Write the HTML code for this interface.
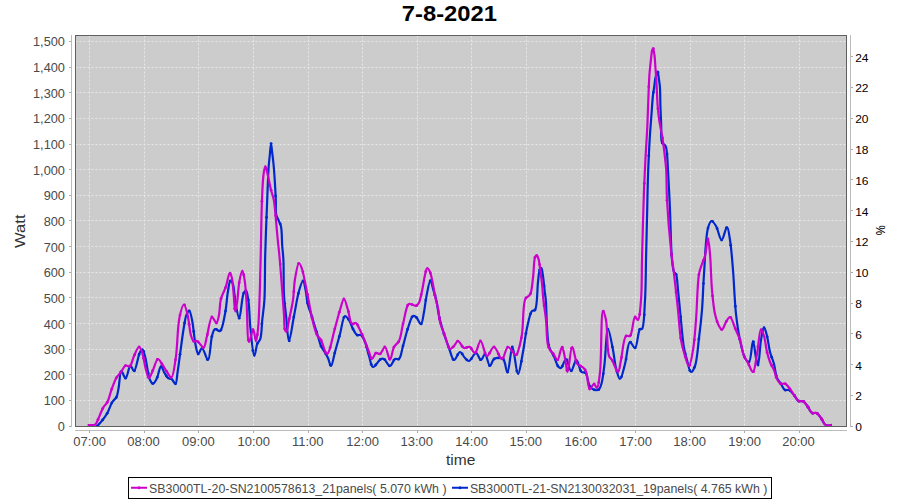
<!DOCTYPE html>
<html><head><meta charset="utf-8"><style>
html,body{margin:0;padding:0;background:#fff;width:900px;height:500px;overflow:hidden}
svg{display:block}
text{font-family:"Liberation Sans",sans-serif}
</style></head><body>
<svg width="900" height="500" viewBox="0 0 900 500">
<rect x="0" y="0" width="900" height="500" fill="#fff"/>
<rect x="75" y="35" width="772" height="392" fill="#cccccc"/>
<line x1="75.5" y1="400.5" x2="846" y2="400.5" stroke="#e8e8e8" stroke-width="1" stroke-dasharray="2,2"/>
<line x1="75.5" y1="374.5" x2="846" y2="374.5" stroke="#e8e8e8" stroke-width="1" stroke-dasharray="2,2"/>
<line x1="75.5" y1="349.5" x2="846" y2="349.5" stroke="#e8e8e8" stroke-width="1" stroke-dasharray="2,2"/>
<line x1="75.5" y1="323.5" x2="846" y2="323.5" stroke="#e8e8e8" stroke-width="1" stroke-dasharray="2,2"/>
<line x1="75.5" y1="297.5" x2="846" y2="297.5" stroke="#e8e8e8" stroke-width="1" stroke-dasharray="2,2"/>
<line x1="75.5" y1="272.5" x2="846" y2="272.5" stroke="#e8e8e8" stroke-width="1" stroke-dasharray="2,2"/>
<line x1="75.5" y1="246.5" x2="846" y2="246.5" stroke="#e8e8e8" stroke-width="1" stroke-dasharray="2,2"/>
<line x1="75.5" y1="220.5" x2="846" y2="220.5" stroke="#e8e8e8" stroke-width="1" stroke-dasharray="2,2"/>
<line x1="75.5" y1="195.5" x2="846" y2="195.5" stroke="#e8e8e8" stroke-width="1" stroke-dasharray="2,2"/>
<line x1="75.5" y1="169.5" x2="846" y2="169.5" stroke="#e8e8e8" stroke-width="1" stroke-dasharray="2,2"/>
<line x1="75.5" y1="144.5" x2="846" y2="144.5" stroke="#e8e8e8" stroke-width="1" stroke-dasharray="2,2"/>
<line x1="75.5" y1="118.5" x2="846" y2="118.5" stroke="#e8e8e8" stroke-width="1" stroke-dasharray="2,2"/>
<line x1="75.5" y1="92.5" x2="846" y2="92.5" stroke="#e8e8e8" stroke-width="1" stroke-dasharray="2,2"/>
<line x1="75.5" y1="67.5" x2="846" y2="67.5" stroke="#e8e8e8" stroke-width="1" stroke-dasharray="2,2"/>
<line x1="75.5" y1="41.5" x2="846" y2="41.5" stroke="#e8e8e8" stroke-width="1" stroke-dasharray="2,2"/>
<line x1="89.5" y1="35.5" x2="89.5" y2="426" stroke="#e8e8e8" stroke-width="1" stroke-dasharray="2,2"/>
<line x1="144.5" y1="35.5" x2="144.5" y2="426" stroke="#e8e8e8" stroke-width="1" stroke-dasharray="2,2"/>
<line x1="198.5" y1="35.5" x2="198.5" y2="426" stroke="#e8e8e8" stroke-width="1" stroke-dasharray="2,2"/>
<line x1="253.5" y1="35.5" x2="253.5" y2="426" stroke="#e8e8e8" stroke-width="1" stroke-dasharray="2,2"/>
<line x1="308.5" y1="35.5" x2="308.5" y2="426" stroke="#e8e8e8" stroke-width="1" stroke-dasharray="2,2"/>
<line x1="362.5" y1="35.5" x2="362.5" y2="426" stroke="#e8e8e8" stroke-width="1" stroke-dasharray="2,2"/>
<line x1="417.5" y1="35.5" x2="417.5" y2="426" stroke="#e8e8e8" stroke-width="1" stroke-dasharray="2,2"/>
<line x1="471.5" y1="35.5" x2="471.5" y2="426" stroke="#e8e8e8" stroke-width="1" stroke-dasharray="2,2"/>
<line x1="526.5" y1="35.5" x2="526.5" y2="426" stroke="#e8e8e8" stroke-width="1" stroke-dasharray="2,2"/>
<line x1="581.5" y1="35.5" x2="581.5" y2="426" stroke="#e8e8e8" stroke-width="1" stroke-dasharray="2,2"/>
<line x1="635.5" y1="35.5" x2="635.5" y2="426" stroke="#e8e8e8" stroke-width="1" stroke-dasharray="2,2"/>
<line x1="690.5" y1="35.5" x2="690.5" y2="426" stroke="#e8e8e8" stroke-width="1" stroke-dasharray="2,2"/>
<line x1="744.5" y1="35.5" x2="744.5" y2="426" stroke="#e8e8e8" stroke-width="1" stroke-dasharray="2,2"/>
<line x1="799.5" y1="35.5" x2="799.5" y2="426" stroke="#e8e8e8" stroke-width="1" stroke-dasharray="2,2"/>
<clipPath id="pc"><rect x="76" y="36" width="770" height="390"/></clipPath>
<g clip-path="url(#pc)">
<path d="M96.0,426.5 C96.0,426.5 97.0,426.1 97.6,425.6 C98.9,424.5 101.2,421.8 102.8,419.7 C104.4,417.7 105.8,415.8 107.2,413.3 C109.0,410.1 110.5,404.9 112.3,402.0 C113.6,399.9 115.5,399.1 116.5,397.0 C117.7,394.6 117.9,391.5 118.6,388.0 C119.5,383.3 119.8,371.5 121.4,371.2 C122.5,371.0 124.3,378.3 125.6,378.2 C127.3,378.1 128.8,365.8 130.5,365.6 C131.7,365.5 132.8,371.3 134.0,371.2 C136.0,370.9 138.1,355.3 140.0,352.0 C140.8,350.6 141.7,349.3 142.4,349.4 C143.4,349.6 144.1,353.1 145.0,356.0 C146.6,361.5 147.9,375.7 150.0,380.0 C150.9,381.9 152.0,383.6 153.0,383.6 C154.3,383.6 155.8,380.3 157.0,378.0 C158.6,374.8 159.6,366.1 161.0,366.0 C162.0,365.9 162.9,370.0 164.0,372.0 C165.2,374.0 166.5,376.9 168.0,378.0 C169.1,378.8 170.5,378.3 171.6,379.0 C173.0,379.9 174.5,384.1 175.5,383.8 C176.8,383.5 176.9,376.4 177.6,372.0 C178.5,366.3 179.3,359.3 180.3,352.3 C181.4,344.4 182.7,334.0 183.9,327.0 C184.8,322.1 185.3,317.2 186.6,314.4 C187.4,312.7 188.5,310.7 189.3,310.8 C190.4,311.0 191.2,316.0 192.0,319.8 C193.4,326.0 194.2,338.8 195.6,345.0 C196.4,348.8 197.1,353.8 198.3,354.0 C199.3,354.1 200.7,347.9 202.0,348.0 C203.8,348.1 206.4,360.2 208.0,360.0 C210.1,359.7 210.4,341.5 212.0,336.0 C212.9,332.9 213.5,329.6 215.0,329.0 C216.3,328.5 218.6,331.7 220.0,331.0 C222.5,329.8 223.7,320.1 225.0,314.0 C226.5,307.0 226.9,297.1 228.0,291.0 C228.7,286.9 229.3,281.1 230.4,280.8 C231.1,280.6 232.1,282.3 232.8,283.8 C234.2,287.0 234.2,295.0 235.2,300.6 C236.3,306.4 237.9,318.2 239.2,318.2 C240.7,318.2 241.7,297.6 243.6,293.4 C244.3,291.8 245.3,290.2 246.0,290.4 C247.1,290.7 247.7,296.3 248.4,300.6 C249.5,307.5 249.4,318.8 250.4,328.0 C251.4,337.3 252.9,355.9 254.3,356.0 C255.3,356.1 256.1,346.4 257.4,343.4 C258.2,341.5 259.5,341.2 260.2,339.2 C261.7,335.2 261.6,326.1 262.3,319.6 C263.0,313.1 263.9,307.9 264.4,300.0 C265.1,288.1 264.8,270.7 265.2,255.0 C265.7,237.6 266.5,216.3 267.2,200.0 C267.7,187.0 268.2,172.8 268.8,165.0 C269.1,161.0 269.4,159.2 269.7,156.0 C270.1,152.2 270.6,143.6 271.0,143.6 C271.4,143.6 271.7,148.9 272.1,152.0 C272.6,155.9 273.1,159.6 273.6,165.0 C274.4,173.8 275.4,190.9 275.8,200.0 C276.1,205.8 275.4,210.7 276.2,214.4 C276.7,216.9 277.8,218.4 278.6,220.4 C279.4,222.4 280.4,223.8 281.0,226.4 C282.0,230.9 281.8,239.7 282.2,245.6 C282.6,250.7 283.1,254.1 283.4,260.0 C283.9,269.1 283.4,285.0 284.0,295.0 C284.4,302.6 285.2,307.9 286.0,315.0 C286.9,323.1 287.7,340.9 289.0,341.0 C290.3,341.1 292.3,324.3 294.0,316.0 C295.7,307.7 297.1,297.4 299.0,291.0 C300.2,286.8 301.9,280.9 303.0,281.0 C304.0,281.1 304.9,286.6 305.6,290.0 C306.5,294.1 306.6,299.5 307.7,304.0 C308.7,308.4 310.8,313.0 311.9,316.6 C312.7,319.3 313.2,321.0 314.0,323.6 C315.0,326.9 316.3,331.1 317.5,334.8 C318.7,338.5 319.6,343.0 321.0,346.0 C322.0,348.3 323.4,349.7 324.5,351.6 C325.7,353.6 326.9,355.7 328.0,358.0 C329.1,360.5 330.0,366.0 331.0,366.0 C332.3,365.9 333.6,357.0 335.0,352.0 C336.6,346.4 338.3,340.0 340.0,334.0 C341.7,328.0 342.8,316.6 345.0,316.0 C346.2,315.7 347.8,318.3 349.0,320.0 C350.6,322.3 351.5,326.4 353.0,329.0 C354.2,331.3 355.4,334.1 357.0,335.0 C358.2,335.6 359.8,334.3 361.0,335.0 C362.7,336.0 363.8,339.2 365.0,342.0 C366.6,345.8 367.6,351.6 369.0,356.0 C370.3,359.9 371.0,366.5 373.0,367.0 C375.0,367.4 378.8,359.9 381.0,359.0 C382.1,358.5 382.9,358.5 384.0,359.0 C385.8,359.8 388.1,366.1 390.0,366.0 C391.8,365.9 393.2,359.9 395.0,359.0 C396.3,358.4 397.9,359.8 399.0,359.0 C401.1,357.5 401.6,350.7 403.0,346.0 C404.6,340.5 406.2,333.3 408.0,328.0 C409.5,323.5 411.1,316.9 413.0,316.0 C413.9,315.6 415.0,316.3 416.0,317.0 C417.7,318.2 419.7,324.2 421.0,324.0 C422.5,323.7 423.1,316.3 424.0,312.0 C425.0,307.1 425.4,301.3 426.5,296.0 C427.6,290.8 429.1,280.6 430.4,280.6 C431.4,280.6 432.5,287.1 433.5,290.4 C434.5,293.6 435.5,296.4 436.3,300.0 C437.4,304.6 437.8,310.5 439.0,316.0 C440.3,321.9 442.2,328.4 444.0,334.0 C445.6,339.0 447.3,343.5 449.0,348.0 C450.6,352.2 452.0,359.8 454.0,360.0 C455.7,360.2 458.1,352.0 460.0,352.0 C461.7,352.0 463.3,356.4 465.0,358.0 C466.3,359.3 467.6,361.2 469.0,361.0 C471.1,360.8 473.9,352.9 476.0,353.0 C477.9,353.1 479.4,360.0 481.0,360.0 C482.4,360.0 483.7,353.9 485.0,354.0 C486.7,354.2 488.3,365.9 490.0,366.0 C491.3,366.1 491.9,360.2 494.0,359.0 C496.2,357.7 500.8,357.4 503.0,359.0 C505.7,361.0 506.0,372.5 507.4,372.4 C509.3,372.3 510.7,347.0 512.4,347.0 C514.2,347.0 516.1,374.0 518.0,374.0 C519.7,374.0 521.5,359.5 523.0,352.0 C524.5,344.2 525.3,335.3 527.0,328.0 C528.4,321.8 529.8,313.2 532.0,311.0 C532.9,310.1 534.2,311.0 535.0,310.0 C537.5,306.9 537.1,289.5 538.0,282.0 C538.6,277.0 538.8,271.5 539.8,269.4 C540.2,268.5 540.9,267.7 541.3,267.8 C542.1,268.0 542.3,272.0 542.8,274.8 C543.5,279.0 544.1,285.8 544.6,290.4 C545.0,294.0 545.5,296.0 545.8,300.0 C546.4,306.5 546.4,317.8 547.0,326.0 C547.5,333.3 547.5,341.3 549.1,346.8 C550.3,350.8 552.5,353.3 554.0,356.6 C555.5,359.8 556.6,364.6 558.2,366.4 C559.1,367.4 560.1,368.3 561.0,368.0 C562.7,367.5 564.4,358.9 566.0,359.0 C567.8,359.1 569.2,370.9 571.0,371.0 C572.7,371.1 574.7,360.1 576.4,360.1 C578.2,360.1 579.4,370.2 581.5,372.0 C582.7,373.0 584.3,371.9 585.5,373.0 C587.7,375.1 588.0,384.6 590.4,387.4 C591.9,389.2 594.4,390.0 596.0,390.2 C597.1,390.3 598.2,390.2 599.0,389.5 C600.2,388.4 600.8,385.9 601.6,383.2 C602.8,378.8 603.5,372.1 604.4,365.0 C605.7,355.0 606.3,329.1 608.0,329.0 C609.3,328.9 611.6,343.2 613.0,350.0 C614.3,356.2 614.6,362.8 616.0,368.0 C617.1,372.2 618.6,379.0 620.0,379.0 C621.6,379.0 623.5,369.5 625.0,364.0 C626.8,357.4 627.6,342.6 630.0,342.0 C631.4,341.7 633.6,348.3 635.0,348.0 C637.3,347.5 638.0,330.5 640.0,329.0 C640.6,328.5 641.4,329.5 642.0,329.0 C644.2,327.0 644.3,310.5 645.0,300.0 C645.8,287.8 645.7,274.1 646.0,260.0 C646.4,244.3 646.8,225.7 647.2,210.0 C647.5,195.9 647.7,183.0 648.2,170.0 C648.7,157.7 649.3,144.8 650.0,134.0 C650.6,125.2 651.3,117.1 651.8,110.0 C652.2,104.4 652.5,99.2 653.0,95.0 C653.4,91.9 653.8,89.7 654.2,87.0 C654.6,84.1 654.8,80.7 655.4,78.0 C656.0,75.7 657.0,71.7 657.6,71.7 C658.2,71.8 658.6,77.2 659.0,79.8 C659.4,82.3 659.7,84.1 659.9,87.0 C660.3,91.6 660.2,98.8 660.4,105.0 C660.6,111.5 660.9,118.6 661.2,125.0 C661.5,131.0 660.5,138.9 662.0,142.4 C662.8,144.3 664.8,144.5 665.6,146.0 C666.5,147.6 666.5,149.5 666.8,152.0 C667.4,156.4 667.6,162.8 668.0,170.0 C668.6,180.7 669.4,195.9 670.0,210.0 C670.7,225.7 670.9,249.1 672.0,260.0 C672.6,265.4 672.9,269.8 674.0,272.0 C674.6,273.1 675.4,272.9 676.0,274.0 C677.3,276.7 677.4,284.4 678.0,290.0 C678.7,296.3 679.2,302.3 680.0,310.0 C681.1,320.7 682.4,338.9 684.0,348.0 C684.9,353.2 685.8,356.0 687.0,360.0 C688.2,364.0 689.4,371.8 691.0,372.0 C692.2,372.2 693.9,368.9 695.0,366.0 C697.2,360.2 697.8,347.3 699.0,338.0 C700.2,328.7 701.2,319.9 702.0,310.0 C702.9,298.8 703.1,286.7 704.0,274.0 C705.0,259.6 705.6,236.5 708.0,228.0 C709.0,224.5 710.2,221.2 711.6,221.0 C712.9,220.8 714.6,223.8 716.0,226.0 C718.1,229.4 719.7,240.0 721.6,240.0 C723.4,240.0 725.6,226.9 727.0,227.0 C728.4,227.1 729.1,234.7 730.0,240.0 C731.3,247.9 732.1,259.0 733.0,270.0 C734.1,283.3 734.6,301.3 736.0,314.0 C737.1,323.8 738.3,332.2 740.0,340.0 C741.4,346.6 742.8,354.3 745.0,358.0 C746.2,360.0 747.9,362.3 749.0,362.0 C751.2,361.3 751.8,341.0 753.0,341.0 C754.1,341.0 755.0,353.6 756.0,358.0 C756.7,360.9 757.4,365.0 758.0,365.0 C759.2,364.9 759.8,347.0 761.0,340.0 C761.9,334.9 762.9,327.1 764.0,327.0 C764.9,327.0 766.1,332.5 767.0,336.0 C768.2,340.5 768.7,347.1 770.0,352.0 C771.1,356.3 772.9,359.8 774.0,364.0 C775.2,368.5 775.5,374.4 777.0,378.0 C778.1,380.5 779.7,382.0 781.0,384.0 C782.3,386.0 783.4,389.1 785.0,390.0 C786.2,390.6 787.7,389.5 789.0,390.0 C790.7,390.7 792.4,393.2 794.0,395.0 C795.6,396.9 796.8,400.1 798.5,401.0 C799.9,401.7 801.7,400.6 803.0,401.2 C804.5,401.9 805.7,403.8 807.0,405.5 C808.7,407.6 810.1,412.0 812.0,413.0 C813.4,413.7 815.1,412.4 816.5,413.0 C818.2,413.7 819.6,416.2 821.0,418.0 C822.5,420.0 823.5,423.3 825.0,424.5 C825.9,425.2 827.0,425.4 828.0,425.5 C829.0,425.6 831.0,425.0 831.0,425.0" fill="none" stroke="#0028cc" stroke-width="2.2" stroke-linejoin="round" stroke-linecap="round"/>
<g fill="#0028cc"><circle cx="102.7" cy="419.9" r="1.4"/><circle cx="107.2" cy="413.3" r="1.4"/><circle cx="111.8" cy="402.9" r="1.4"/><circle cx="116.3" cy="397.4" r="1.4"/><circle cx="120.9" cy="371.8" r="1.4"/><circle cx="125.4" cy="378.2" r="1.4"/><circle cx="130.0" cy="366.1" r="1.4"/><circle cx="134.5" cy="370.8" r="1.4"/><circle cx="139.1" cy="354.4" r="1.4"/><circle cx="143.6" cy="351.3" r="1.4"/><circle cx="148.2" cy="373.2" r="1.4"/><circle cx="152.7" cy="383.6" r="1.4"/><circle cx="157.3" cy="377.4" r="1.4"/><circle cx="161.8" cy="366.8" r="1.4"/><circle cx="166.4" cy="376.1" r="1.4"/><circle cx="170.9" cy="378.7" r="1.4"/><circle cx="175.5" cy="383.8" r="1.4"/><circle cx="180.0" cy="354.3" r="1.4"/><circle cx="184.6" cy="322.9" r="1.4"/><circle cx="189.1" cy="310.8" r="1.4"/><circle cx="193.7" cy="331.4" r="1.4"/><circle cx="198.2" cy="354.0" r="1.4"/><circle cx="202.8" cy="348.6" r="1.4"/><circle cx="207.3" cy="359.5" r="1.4"/><circle cx="211.9" cy="336.4" r="1.4"/><circle cx="216.4" cy="329.4" r="1.4"/><circle cx="221.0" cy="330.0" r="1.4"/><circle cx="225.5" cy="311.1" r="1.4"/><circle cx="230.1" cy="281.0" r="1.4"/><circle cx="234.6" cy="296.6" r="1.4"/><circle cx="239.2" cy="318.2" r="1.4"/><circle cx="243.7" cy="293.1" r="1.4"/><circle cx="248.3" cy="299.9" r="1.4"/><circle cx="252.8" cy="350.6" r="1.4"/><circle cx="257.4" cy="343.4" r="1.4"/><circle cx="261.9" cy="323.8" r="1.4"/><circle cx="266.5" cy="217.3" r="1.4"/><circle cx="271.1" cy="143.6" r="1.4"/><circle cx="275.6" cy="195.9" r="1.4"/><circle cx="280.2" cy="223.8" r="1.4"/><circle cx="284.7" cy="303.6" r="1.4"/><circle cx="289.3" cy="340.8" r="1.4"/><circle cx="293.8" cy="317.0" r="1.4"/><circle cx="298.4" cy="293.4" r="1.4"/><circle cx="302.9" cy="281.0" r="1.4"/><circle cx="307.5" cy="302.9" r="1.4"/><circle cx="312.0" cy="317.0" r="1.4"/><circle cx="316.6" cy="331.8" r="1.4"/><circle cx="321.1" cy="346.2" r="1.4"/><circle cx="325.7" cy="353.6" r="1.4"/><circle cx="330.2" cy="365.0" r="1.4"/><circle cx="334.8" cy="352.9" r="1.4"/><circle cx="339.3" cy="336.4" r="1.4"/><circle cx="343.9" cy="317.4" r="1.4"/><circle cx="348.4" cy="319.2" r="1.4"/><circle cx="353.0" cy="329.0" r="1.4"/><circle cx="357.5" cy="335.2" r="1.4"/><circle cx="362.1" cy="336.0" r="1.4"/><circle cx="366.6" cy="347.1" r="1.4"/><circle cx="371.2" cy="364.4" r="1.4"/><circle cx="375.7" cy="365.0" r="1.4"/><circle cx="380.3" cy="359.5" r="1.4"/><circle cx="384.8" cy="359.7" r="1.4"/><circle cx="389.4" cy="365.8" r="1.4"/><circle cx="393.9" cy="360.1" r="1.4"/><circle cx="398.5" cy="359.2" r="1.4"/><circle cx="403.0" cy="345.9" r="1.4"/><circle cx="407.6" cy="329.2" r="1.4"/><circle cx="412.1" cy="316.8" r="1.4"/><circle cx="416.7" cy="317.7" r="1.4"/><circle cx="421.2" cy="323.9" r="1.4"/><circle cx="425.8" cy="300.0" r="1.4"/><circle cx="430.3" cy="280.6" r="1.4"/><circle cx="434.9" cy="294.9" r="1.4"/><circle cx="439.5" cy="317.9" r="1.4"/><circle cx="444.0" cy="334.0" r="1.4"/><circle cx="448.6" cy="346.8" r="1.4"/><circle cx="453.1" cy="359.4" r="1.4"/><circle cx="457.7" cy="354.7" r="1.4"/><circle cx="462.2" cy="353.9" r="1.4"/><circle cx="466.8" cy="359.8" r="1.4"/><circle cx="471.3" cy="358.8" r="1.4"/><circle cx="475.9" cy="353.0" r="1.4"/><circle cx="480.4" cy="359.7" r="1.4"/><circle cx="485.0" cy="354.0" r="1.4"/><circle cx="489.5" cy="365.7" r="1.4"/><circle cx="494.1" cy="359.0" r="1.4"/><circle cx="498.6" cy="357.9" r="1.4"/><circle cx="503.2" cy="359.1" r="1.4"/><circle cx="507.7" cy="372.1" r="1.4"/><circle cx="512.3" cy="347.0" r="1.4"/><circle cx="516.8" cy="370.9" r="1.4"/><circle cx="521.4" cy="361.3" r="1.4"/><circle cx="525.9" cy="333.5" r="1.4"/><circle cx="530.5" cy="313.8" r="1.4"/><circle cx="535.0" cy="310.0" r="1.4"/><circle cx="539.6" cy="269.9" r="1.4"/><circle cx="544.1" cy="286.1" r="1.4"/><circle cx="548.7" cy="345.1" r="1.4"/><circle cx="553.2" cy="355.1" r="1.4"/><circle cx="557.8" cy="365.9" r="1.4"/><circle cx="562.3" cy="366.2" r="1.4"/><circle cx="566.9" cy="360.0" r="1.4"/><circle cx="571.4" cy="370.8" r="1.4"/><circle cx="576.0" cy="360.3" r="1.4"/><circle cx="580.5" cy="370.6" r="1.4"/><circle cx="585.1" cy="372.7" r="1.4"/><circle cx="589.6" cy="386.2" r="1.4"/><circle cx="594.2" cy="389.8" r="1.4"/><circle cx="598.7" cy="389.7" r="1.4"/><circle cx="603.3" cy="373.8" r="1.4"/><circle cx="607.8" cy="329.1" r="1.4"/><circle cx="612.4" cy="346.9" r="1.4"/><circle cx="617.0" cy="371.7" r="1.4"/><circle cx="621.5" cy="376.8" r="1.4"/><circle cx="626.1" cy="358.9" r="1.4"/><circle cx="630.6" cy="342.2" r="1.4"/><circle cx="635.2" cy="347.9" r="1.4"/><circle cx="639.7" cy="329.3" r="1.4"/><circle cx="644.3" cy="314.8" r="1.4"/><circle cx="648.8" cy="155.7" r="1.4"/><circle cx="653.4" cy="92.3" r="1.4"/><circle cx="657.9" cy="72.2" r="1.4"/><circle cx="662.5" cy="143.2" r="1.4"/><circle cx="667.0" cy="153.9" r="1.4"/><circle cx="671.6" cy="254.5" r="1.4"/><circle cx="676.1" cy="274.3" r="1.4"/><circle cx="680.7" cy="317.0" r="1.4"/><circle cx="685.2" cy="353.7" r="1.4"/><circle cx="689.8" cy="370.4" r="1.4"/><circle cx="694.3" cy="367.6" r="1.4"/><circle cx="698.9" cy="339.0" r="1.4"/><circle cx="703.4" cy="283.6" r="1.4"/><circle cx="708.0" cy="228.1" r="1.4"/><circle cx="712.5" cy="221.3" r="1.4"/><circle cx="717.1" cy="228.4" r="1.4"/><circle cx="721.6" cy="240.0" r="1.4"/><circle cx="726.2" cy="228.0" r="1.4"/><circle cx="730.7" cy="245.2" r="1.4"/><circle cx="735.3" cy="306.2" r="1.4"/><circle cx="739.8" cy="339.2" r="1.4"/><circle cx="744.4" cy="356.8" r="1.4"/><circle cx="748.9" cy="362.0" r="1.4"/><circle cx="753.5" cy="341.8" r="1.4"/><circle cx="758.0" cy="365.0" r="1.4"/><circle cx="762.6" cy="330.8" r="1.4"/><circle cx="767.1" cy="336.6" r="1.4"/><circle cx="771.7" cy="357.2" r="1.4"/><circle cx="776.2" cy="375.7" r="1.4"/><circle cx="780.8" cy="383.7" r="1.4"/><circle cx="785.3" cy="390.1" r="1.4"/><circle cx="789.9" cy="390.5" r="1.4"/><circle cx="794.5" cy="395.6" r="1.4"/><circle cx="799.0" cy="401.2" r="1.4"/><circle cx="803.6" cy="401.5" r="1.4"/><circle cx="808.1" cy="407.2" r="1.4"/><circle cx="812.7" cy="413.2" r="1.4"/><circle cx="817.2" cy="413.4" r="1.4"/><circle cx="821.8" cy="419.2" r="1.4"/></g>
<path d="M88.5,425.0 C88.5,425.0 92.1,425.3 93.4,425.0 C94.4,424.8 95.1,424.7 95.8,424.0 C96.8,423.1 97.2,421.2 98.1,419.3 C99.5,416.3 101.4,410.7 103.2,407.6 C104.5,405.3 106.2,404.4 107.4,402.0 C109.1,398.7 110.1,393.5 111.6,389.4 C113.1,385.4 114.7,380.5 116.5,377.5 C117.8,375.4 119.3,374.4 120.7,372.6 C122.3,370.5 123.8,366.4 125.6,365.6 C126.9,365.1 128.6,367.0 129.8,366.3 C131.7,365.2 132.4,359.3 134.0,356.0 C135.5,352.9 137.5,347.0 139.0,347.0 C140.1,347.0 141.1,349.7 142.0,352.0 C143.6,356.1 144.6,365.2 146.0,370.0 C147.0,373.2 147.9,377.9 149.0,378.0 C150.2,378.1 151.6,372.9 153.0,370.0 C154.6,366.6 156.2,359.2 158.0,359.0 C159.3,358.8 160.6,362.1 162.0,364.0 C163.6,366.3 165.3,369.6 167.0,372.0 C168.4,374.0 170.1,377.8 171.3,377.5 C173.4,377.0 174.6,365.5 175.8,357.7 C177.5,346.8 177.4,327.7 179.4,318.0 C180.6,312.2 182.5,304.5 183.9,304.5 C185.1,304.5 186.5,310.4 187.5,314.4 C189.0,320.2 189.6,331.3 191.1,336.0 C191.9,338.5 192.6,340.7 193.8,341.4 C194.7,341.9 196.0,340.7 197.0,341.0 C198.1,341.4 199.0,343.0 200.0,344.0 C201.1,345.1 202.6,347.9 203.6,347.6 C205.2,347.2 205.8,340.4 207.0,336.0 C208.5,330.5 209.9,317.4 212.0,317.0 C213.3,316.8 215.2,323.2 216.4,323.0 C217.6,322.8 218.3,318.1 219.0,315.0 C219.9,310.7 219.6,304.2 220.8,299.4 C221.9,295.1 224.1,291.6 225.6,287.4 C227.2,282.9 228.6,273.1 229.8,273.0 C230.4,272.9 231.1,274.9 231.6,276.6 C232.6,279.7 232.8,285.8 233.4,291.0 C234.1,297.2 234.4,311.4 235.2,311.4 C235.7,311.4 236.4,306.5 237.0,303.0 C237.9,297.5 238.3,287.3 239.4,281.4 C240.2,277.1 241.5,270.6 242.4,270.6 C243.3,270.6 244.2,277.2 244.8,281.4 C245.7,287.3 246.0,294.7 246.6,303.0 C247.4,314.1 247.2,341.8 249.0,342.0 C250.1,342.1 252.0,329.3 253.2,329.4 C254.3,329.5 255.2,341.3 256.0,341.3 C256.8,341.3 257.6,333.3 258.1,328.0 C258.9,320.4 259.1,310.2 259.5,300.0 C260.0,287.9 260.2,274.7 260.6,260.0 C261.1,242.0 261.3,215.9 262.0,200.0 C262.4,189.5 262.7,180.2 263.6,174.0 C264.1,170.5 264.7,166.0 265.4,166.0 C266.2,166.0 267.1,172.4 268.0,176.0 C269.0,180.3 269.9,185.7 271.0,190.0 C271.9,193.6 273.1,196.3 273.8,200.0 C274.7,204.6 275.0,210.0 275.6,215.6 C276.2,221.9 276.7,228.9 277.4,236.0 C278.1,243.7 279.2,252.9 279.8,260.0 C280.3,265.6 280.5,268.8 281.0,275.0 C281.8,285.1 283.3,304.9 284.0,315.0 C284.4,321.2 284.1,327.4 285.0,330.0 C285.4,331.1 286.0,332.1 286.4,332.0 C287.4,331.8 288.1,324.5 289.0,320.0 C290.2,314.2 292.0,306.8 293.0,300.0 C294.0,293.1 293.9,285.5 295.0,279.0 C296.0,273.3 297.5,263.2 299.0,263.0 C299.9,262.9 301.1,266.4 302.0,269.0 C303.5,273.3 304.6,280.4 306.0,287.0 C307.6,294.9 310.0,307.7 311.0,313.0 C311.5,315.3 311.5,315.9 312.0,318.0 C313.0,322.0 315.0,331.1 317.0,335.0 C318.2,337.3 319.7,337.8 321.0,340.0 C323.0,343.4 325.0,354.1 327.0,354.0 C329.7,353.9 332.7,335.9 335.0,328.0 C336.9,321.5 338.3,315.2 340.0,310.0 C341.3,305.9 342.7,299.0 344.0,299.0 C345.3,299.0 346.7,306.1 348.0,310.0 C349.4,314.4 349.9,322.8 352.0,324.0 C353.1,324.6 354.9,322.5 356.0,323.0 C357.3,323.5 357.9,326.0 359.0,328.0 C360.5,330.9 362.4,335.2 364.0,339.0 C365.7,343.1 367.5,348.3 369.0,352.0 C370.1,354.7 370.8,358.9 372.0,359.0 C373.2,359.1 374.4,353.6 376.0,353.0 C377.2,352.5 378.7,354.5 380.0,354.0 C381.8,353.3 383.5,346.8 385.0,347.0 C386.9,347.2 388.5,359.7 390.0,359.6 C391.5,359.5 392.2,350.3 394.0,347.0 C395.4,344.5 397.6,343.7 399.0,341.0 C401.0,336.9 401.5,329.9 403.0,324.0 C404.6,317.7 406.2,306.3 408.3,304.4 C409.0,303.8 409.5,303.9 410.4,304.0 C411.8,304.1 414.5,306.2 416.0,305.8 C417.2,305.5 418.0,304.4 418.8,303.0 C420.1,300.8 420.7,296.8 421.6,293.0 C422.8,287.9 423.9,279.6 425.0,275.0 C425.7,272.1 426.2,268.1 427.2,268.0 C428.0,267.9 429.2,270.2 430.0,272.0 C431.2,274.7 431.9,279.3 432.8,283.4 C433.8,288.1 434.6,294.1 435.6,298.8 C436.5,302.8 437.7,306.2 438.4,310.0 C439.1,313.9 439.0,317.9 440.0,322.0 C441.1,326.5 443.3,331.4 445.0,336.0 C446.6,340.4 448.0,348.4 450.0,349.0 C451.2,349.3 452.7,347.2 454.0,346.0 C455.4,344.6 456.5,341.0 458.0,341.0 C459.8,341.0 462.0,347.4 464.0,348.0 C465.3,348.4 466.9,347.1 468.0,347.0 C468.8,346.9 469.3,346.7 470.0,347.0 C471.4,347.7 473.4,353.2 475.0,353.0 C477.0,352.7 478.7,341.0 480.6,341.0 C482.7,341.0 484.5,355.7 487.0,356.0 C489.1,356.3 491.6,346.9 494.0,347.0 C496.6,347.1 499.6,359.1 502.0,359.0 C504.3,358.9 505.5,347.4 508.0,347.0 C510.3,346.6 514.1,355.4 516.0,355.0 C517.5,354.7 518.1,350.8 519.0,348.0 C520.2,344.2 521.1,339.8 522.0,334.0 C523.4,325.0 522.7,303.9 525.4,298.8 C526.4,296.9 528.1,296.9 529.0,295.8 C529.8,294.9 530.3,294.3 530.8,292.8 C532.0,289.5 532.5,281.8 533.2,276.0 C533.9,270.0 533.8,260.6 535.0,257.4 C535.5,256.1 536.3,254.9 536.8,255.0 C537.5,255.1 538.1,257.4 538.6,259.2 C539.4,262.1 539.8,267.0 540.4,271.2 C541.0,275.8 541.7,280.8 542.2,285.6 C542.7,290.4 542.8,294.8 543.4,300.0 C544.1,306.1 545.3,313.0 546.0,320.0 C546.8,327.6 546.6,338.8 547.7,344.0 C548.3,346.6 548.8,347.9 549.8,349.6 C550.7,351.2 552.1,352.2 553.3,353.8 C554.7,355.6 556.2,360.2 557.5,360.0 C559.2,359.8 560.7,347.0 562.0,347.0 C563.2,347.0 564.1,354.1 565.0,358.0 C566.0,362.4 566.6,372.0 567.6,372.0 C568.9,372.0 570.4,346.9 572.2,346.8 C573.7,346.7 575.1,360.8 577.1,363.6 C578.0,364.9 579.0,365.0 580.0,365.7 C581.1,366.4 582.4,366.8 583.4,367.8 C584.5,368.9 585.4,370.0 586.2,372.0 C587.7,375.7 587.8,388.5 589.7,389.0 C590.9,389.3 592.7,384.0 594.0,384.0 C595.1,384.0 596.2,388.2 597.0,388.0 C598.5,387.6 599.2,379.1 600.0,372.0 C601.6,358.3 600.9,311.3 603.0,311.0 C603.8,310.9 605.2,315.9 606.0,320.0 C607.6,327.9 606.8,350.1 609.0,356.0 C609.8,358.2 610.9,358.2 612.0,360.0 C613.8,362.9 616.5,372.2 618.0,372.0 C619.5,371.8 619.9,364.7 621.0,360.0 C622.5,353.4 623.2,338.3 626.0,336.0 C627.1,335.1 628.8,336.9 630.0,336.0 C632.6,334.0 633.0,317.5 635.0,317.0 C635.9,316.7 637.2,320.3 638.0,320.0 C639.8,319.4 640.3,307.8 641.0,300.0 C642.0,289.0 641.6,275.2 642.0,260.0 C642.5,239.9 643.3,208.5 644.0,190.0 C644.5,177.9 644.9,170.4 645.4,160.0 C646.0,148.8 646.9,135.7 647.4,125.0 C647.8,116.0 648.0,107.0 648.3,100.0 C648.5,95.0 648.6,91.4 648.8,87.0 C649.0,82.5 649.2,78.0 649.5,73.5 C649.9,69.0 650.4,64.2 650.9,60.0 C651.3,56.4 651.6,51.9 652.2,50.0 C652.5,49.2 652.8,48.3 653.1,48.3 C653.6,48.4 654.1,52.8 654.5,55.5 C655.0,58.9 655.1,63.2 655.4,67.2 C655.7,71.3 656.1,76.2 656.3,79.8 C656.5,82.5 656.5,84.1 656.7,87.0 C656.9,91.6 657.2,99.3 657.6,105.0 C658.0,110.2 658.4,114.7 659.2,120.0 C660.1,125.9 661.6,132.5 662.6,138.8 C663.6,145.2 664.4,152.3 665.0,158.0 C665.5,162.5 665.9,165.1 666.2,170.0 C666.7,177.7 666.4,188.7 667.0,200.0 C667.8,214.6 669.6,236.4 671.0,250.0 C672.0,259.5 673.0,265.2 674.0,274.0 C675.3,284.8 676.8,298.5 678.0,310.0 C679.1,320.5 679.5,331.6 681.0,340.0 C682.1,346.2 683.5,351.3 685.0,356.0 C686.2,359.8 687.8,366.1 689.0,366.0 C690.5,365.9 691.9,356.2 693.0,350.0 C694.5,341.6 695.1,331.1 696.0,320.0 C697.1,306.3 697.3,283.7 699.0,274.0 C699.8,269.4 700.9,267.1 702.0,264.0 C703.0,261.2 704.1,259.2 705.0,256.0 C706.2,251.4 707.1,239.0 708.0,239.0 C708.8,239.0 709.4,247.9 710.0,254.0 C710.9,263.4 711.0,279.2 712.0,290.0 C712.8,298.8 713.5,307.4 715.0,314.0 C716.1,318.7 717.5,323.3 719.0,326.0 C719.9,327.7 721.0,329.7 722.0,329.6 C723.3,329.5 724.6,324.2 726.0,322.0 C727.2,320.1 728.7,316.8 730.0,317.0 C731.8,317.2 733.4,324.2 735.0,328.0 C736.7,331.9 738.6,335.7 740.0,340.0 C741.6,344.9 742.3,351.8 744.0,356.0 C745.2,358.9 746.6,360.5 748.0,363.0 C749.6,365.8 751.6,372.2 753.0,372.0 C754.8,371.7 755.8,360.5 757.0,354.0 C758.5,346.4 759.4,329.2 761.0,329.0 C761.9,328.9 763.1,333.1 764.0,336.0 C765.3,340.2 765.9,347.3 767.0,352.0 C767.9,355.8 768.8,358.9 770.0,362.0 C771.1,364.9 772.8,367.2 774.0,370.0 C775.2,372.9 775.7,376.5 777.0,379.0 C778.1,381.0 779.5,383.4 781.0,384.0 C782.2,384.5 783.7,383.1 785.0,383.6 C786.7,384.3 788.5,387.1 790.0,389.0 C791.5,390.9 792.6,393.0 794.0,395.0 C795.4,397.0 796.8,400.1 798.5,401.0 C799.9,401.7 801.7,400.6 803.0,401.2 C804.5,401.9 805.7,403.8 807.0,405.5 C808.7,407.6 810.1,412.0 812.0,413.0 C813.4,413.7 815.1,412.4 816.5,413.0 C818.2,413.7 819.6,416.2 821.0,418.0 C822.5,420.0 823.5,423.3 825.0,424.5 C825.9,425.2 827.0,425.4 828.0,425.5 C829.0,425.6 831.0,425.0 831.0,425.0" fill="none" stroke="#cc00cc" stroke-width="2.2" stroke-linejoin="round" stroke-linecap="round"/>
<g fill="#cc00cc"><circle cx="98.1" cy="419.3" r="1.4"/><circle cx="102.7" cy="408.6" r="1.4"/><circle cx="107.2" cy="402.4" r="1.4"/><circle cx="111.8" cy="389.0" r="1.4"/><circle cx="116.3" cy="377.8" r="1.4"/><circle cx="120.9" cy="372.4" r="1.4"/><circle cx="125.4" cy="365.7" r="1.4"/><circle cx="130.0" cy="366.2" r="1.4"/><circle cx="134.5" cy="354.9" r="1.4"/><circle cx="139.1" cy="347.0" r="1.4"/><circle cx="143.6" cy="358.3" r="1.4"/><circle cx="148.2" cy="377.2" r="1.4"/><circle cx="152.7" cy="370.6" r="1.4"/><circle cx="157.3" cy="359.5" r="1.4"/><circle cx="161.8" cy="363.7" r="1.4"/><circle cx="166.4" cy="371.1" r="1.4"/><circle cx="170.9" cy="377.5" r="1.4"/><circle cx="175.5" cy="359.8" r="1.4"/><circle cx="180.0" cy="315.1" r="1.4"/><circle cx="184.6" cy="305.0" r="1.4"/><circle cx="189.1" cy="324.3" r="1.4"/><circle cx="193.7" cy="341.3" r="1.4"/><circle cx="198.2" cy="341.9" r="1.4"/><circle cx="202.8" cy="347.3" r="1.4"/><circle cx="207.3" cy="334.7" r="1.4"/><circle cx="211.9" cy="317.0" r="1.4"/><circle cx="216.4" cy="323.0" r="1.4"/><circle cx="221.0" cy="298.7" r="1.4"/><circle cx="225.5" cy="287.6" r="1.4"/><circle cx="230.1" cy="273.1" r="1.4"/><circle cx="234.6" cy="308.7" r="1.4"/><circle cx="239.2" cy="282.6" r="1.4"/><circle cx="243.7" cy="274.7" r="1.4"/><circle cx="248.3" cy="340.1" r="1.4"/><circle cx="252.8" cy="329.7" r="1.4"/><circle cx="257.4" cy="334.7" r="1.4"/><circle cx="261.9" cy="201.2" r="1.4"/><circle cx="266.5" cy="168.9" r="1.4"/><circle cx="271.1" cy="190.2" r="1.4"/><circle cx="275.6" cy="215.6" r="1.4"/><circle cx="280.2" cy="264.1" r="1.4"/><circle cx="284.7" cy="328.8" r="1.4"/><circle cx="289.3" cy="318.8" r="1.4"/><circle cx="293.8" cy="291.7" r="1.4"/><circle cx="298.4" cy="263.6" r="1.4"/><circle cx="302.9" cy="272.0" r="1.4"/><circle cx="307.5" cy="294.4" r="1.4"/><circle cx="312.0" cy="318.1" r="1.4"/><circle cx="316.6" cy="334.1" r="1.4"/><circle cx="321.1" cy="340.2" r="1.4"/><circle cx="325.7" cy="352.7" r="1.4"/><circle cx="330.2" cy="347.4" r="1.4"/><circle cx="334.8" cy="328.8" r="1.4"/><circle cx="339.3" cy="312.2" r="1.4"/><circle cx="343.9" cy="299.0" r="1.4"/><circle cx="348.4" cy="311.5" r="1.4"/><circle cx="353.0" cy="324.0" r="1.4"/><circle cx="357.5" cy="324.8" r="1.4"/><circle cx="362.1" cy="334.5" r="1.4"/><circle cx="366.6" cy="345.8" r="1.4"/><circle cx="371.2" cy="358.2" r="1.4"/><circle cx="375.7" cy="353.2" r="1.4"/><circle cx="380.3" cy="353.8" r="1.4"/><circle cx="384.8" cy="347.0" r="1.4"/><circle cx="389.4" cy="359.0" r="1.4"/><circle cx="393.9" cy="347.1" r="1.4"/><circle cx="398.5" cy="341.9" r="1.4"/><circle cx="403.0" cy="323.8" r="1.4"/><circle cx="407.6" cy="305.4" r="1.4"/><circle cx="412.1" cy="304.6" r="1.4"/><circle cx="416.7" cy="305.5" r="1.4"/><circle cx="421.2" cy="294.6" r="1.4"/><circle cx="425.8" cy="271.4" r="1.4"/><circle cx="430.3" cy="272.8" r="1.4"/><circle cx="434.9" cy="295.2" r="1.4"/><circle cx="439.5" cy="319.0" r="1.4"/><circle cx="444.0" cy="333.4" r="1.4"/><circle cx="448.6" cy="347.2" r="1.4"/><circle cx="453.1" cy="346.9" r="1.4"/><circle cx="457.7" cy="341.1" r="1.4"/><circle cx="462.2" cy="346.3" r="1.4"/><circle cx="466.8" cy="347.4" r="1.4"/><circle cx="471.3" cy="348.5" r="1.4"/><circle cx="475.9" cy="352.2" r="1.4"/><circle cx="480.4" cy="341.0" r="1.4"/><circle cx="485.0" cy="352.8" r="1.4"/><circle cx="489.5" cy="353.2" r="1.4"/><circle cx="494.1" cy="347.0" r="1.4"/><circle cx="498.6" cy="354.2" r="1.4"/><circle cx="503.2" cy="357.9" r="1.4"/><circle cx="507.7" cy="347.1" r="1.4"/><circle cx="512.3" cy="351.2" r="1.4"/><circle cx="516.8" cy="354.4" r="1.4"/><circle cx="521.4" cy="337.8" r="1.4"/><circle cx="525.9" cy="298.0" r="1.4"/><circle cx="530.5" cy="293.6" r="1.4"/><circle cx="535.0" cy="257.3" r="1.4"/><circle cx="539.6" cy="264.6" r="1.4"/><circle cx="544.1" cy="305.8" r="1.4"/><circle cx="548.7" cy="347.4" r="1.4"/><circle cx="553.2" cy="353.7" r="1.4"/><circle cx="557.8" cy="359.8" r="1.4"/><circle cx="562.3" cy="347.2" r="1.4"/><circle cx="566.9" cy="370.3" r="1.4"/><circle cx="571.4" cy="348.3" r="1.4"/><circle cx="576.0" cy="360.8" r="1.4"/><circle cx="580.5" cy="366.0" r="1.4"/><circle cx="585.1" cy="369.8" r="1.4"/><circle cx="589.6" cy="389.0" r="1.4"/><circle cx="594.2" cy="384.0" r="1.4"/><circle cx="598.7" cy="382.6" r="1.4"/><circle cx="603.3" cy="311.2" r="1.4"/><circle cx="607.8" cy="349.3" r="1.4"/><circle cx="612.4" cy="360.7" r="1.4"/><circle cx="617.0" cy="371.1" r="1.4"/><circle cx="621.5" cy="357.4" r="1.4"/><circle cx="626.1" cy="336.0" r="1.4"/><circle cx="630.6" cy="335.2" r="1.4"/><circle cx="635.2" cy="317.0" r="1.4"/><circle cx="639.7" cy="314.5" r="1.4"/><circle cx="644.3" cy="183.5" r="1.4"/><circle cx="648.8" cy="86.8" r="1.4"/><circle cx="653.4" cy="48.7" r="1.4"/><circle cx="657.9" cy="108.8" r="1.4"/><circle cx="662.5" cy="137.9" r="1.4"/><circle cx="667.0" cy="200.3" r="1.4"/><circle cx="671.6" cy="255.1" r="1.4"/><circle cx="676.1" cy="292.6" r="1.4"/><circle cx="680.7" cy="337.9" r="1.4"/><circle cx="685.2" cy="356.7" r="1.4"/><circle cx="689.8" cy="365.2" r="1.4"/><circle cx="694.3" cy="340.0" r="1.4"/><circle cx="698.9" cy="274.7" r="1.4"/><circle cx="703.4" cy="260.4" r="1.4"/><circle cx="708.0" cy="239.0" r="1.4"/><circle cx="712.5" cy="295.8" r="1.4"/><circle cx="717.1" cy="321.5" r="1.4"/><circle cx="721.6" cy="329.5" r="1.4"/><circle cx="726.2" cy="321.7" r="1.4"/><circle cx="730.7" cy="317.5" r="1.4"/><circle cx="735.3" cy="328.6" r="1.4"/><circle cx="739.8" cy="339.5" r="1.4"/><circle cx="744.4" cy="356.9" r="1.4"/><circle cx="748.9" cy="364.9" r="1.4"/><circle cx="753.5" cy="371.7" r="1.4"/><circle cx="758.0" cy="346.6" r="1.4"/><circle cx="762.6" cy="331.6" r="1.4"/><circle cx="767.1" cy="352.6" r="1.4"/><circle cx="771.7" cy="365.5" r="1.4"/><circle cx="776.2" cy="377.3" r="1.4"/><circle cx="780.8" cy="383.9" r="1.4"/><circle cx="785.3" cy="383.8" r="1.4"/><circle cx="789.9" cy="388.9" r="1.4"/><circle cx="794.5" cy="395.7" r="1.4"/><circle cx="799.0" cy="401.2" r="1.4"/><circle cx="803.6" cy="401.5" r="1.4"/><circle cx="808.1" cy="407.2" r="1.4"/><circle cx="812.7" cy="413.2" r="1.4"/><circle cx="817.2" cy="413.4" r="1.4"/><circle cx="821.8" cy="419.2" r="1.4"/></g>
</g>
<rect x="75.5" y="35.5" width="771" height="391" fill="none" stroke="#606060" stroke-width="1"/>
<line x1="71.5" y1="35" x2="71.5" y2="427" stroke="#bbb" stroke-width="1"/>
<line x1="69" y1="426.5" x2="71" y2="426.5" stroke="#aaa" stroke-width="1"/>
<line x1="69" y1="400.5" x2="71" y2="400.5" stroke="#aaa" stroke-width="1"/>
<line x1="69" y1="374.5" x2="71" y2="374.5" stroke="#aaa" stroke-width="1"/>
<line x1="69" y1="349.5" x2="71" y2="349.5" stroke="#aaa" stroke-width="1"/>
<line x1="69" y1="323.5" x2="71" y2="323.5" stroke="#aaa" stroke-width="1"/>
<line x1="69" y1="297.5" x2="71" y2="297.5" stroke="#aaa" stroke-width="1"/>
<line x1="69" y1="272.5" x2="71" y2="272.5" stroke="#aaa" stroke-width="1"/>
<line x1="69" y1="246.5" x2="71" y2="246.5" stroke="#aaa" stroke-width="1"/>
<line x1="69" y1="220.5" x2="71" y2="220.5" stroke="#aaa" stroke-width="1"/>
<line x1="69" y1="195.5" x2="71" y2="195.5" stroke="#aaa" stroke-width="1"/>
<line x1="69" y1="169.5" x2="71" y2="169.5" stroke="#aaa" stroke-width="1"/>
<line x1="69" y1="144.5" x2="71" y2="144.5" stroke="#aaa" stroke-width="1"/>
<line x1="69" y1="118.5" x2="71" y2="118.5" stroke="#aaa" stroke-width="1"/>
<line x1="69" y1="92.5" x2="71" y2="92.5" stroke="#aaa" stroke-width="1"/>
<line x1="69" y1="67.5" x2="71" y2="67.5" stroke="#aaa" stroke-width="1"/>
<line x1="69" y1="41.5" x2="71" y2="41.5" stroke="#aaa" stroke-width="1"/>
<line x1="850.5" y1="35" x2="850.5" y2="427" stroke="#bbb" stroke-width="1"/>
<line x1="851" y1="426.5" x2="853" y2="426.5" stroke="#aaa" stroke-width="1"/>
<line x1="851" y1="395.5" x2="853" y2="395.5" stroke="#aaa" stroke-width="1"/>
<line x1="851" y1="364.5" x2="853" y2="364.5" stroke="#aaa" stroke-width="1"/>
<line x1="851" y1="333.5" x2="853" y2="333.5" stroke="#aaa" stroke-width="1"/>
<line x1="851" y1="303.5" x2="853" y2="303.5" stroke="#aaa" stroke-width="1"/>
<line x1="851" y1="272.5" x2="853" y2="272.5" stroke="#aaa" stroke-width="1"/>
<line x1="851" y1="241.5" x2="853" y2="241.5" stroke="#aaa" stroke-width="1"/>
<line x1="851" y1="210.5" x2="853" y2="210.5" stroke="#aaa" stroke-width="1"/>
<line x1="851" y1="179.5" x2="853" y2="179.5" stroke="#aaa" stroke-width="1"/>
<line x1="851" y1="149.5" x2="853" y2="149.5" stroke="#aaa" stroke-width="1"/>
<line x1="851" y1="118.5" x2="853" y2="118.5" stroke="#aaa" stroke-width="1"/>
<line x1="851" y1="87.5" x2="853" y2="87.5" stroke="#aaa" stroke-width="1"/>
<line x1="851" y1="56.5" x2="853" y2="56.5" stroke="#aaa" stroke-width="1"/>
<line x1="75" y1="430.5" x2="847" y2="430.5" stroke="#bbb" stroke-width="1"/>
<line x1="89.5" y1="431" x2="89.5" y2="433" stroke="#aaa" stroke-width="1"/>
<line x1="144.5" y1="431" x2="144.5" y2="433" stroke="#aaa" stroke-width="1"/>
<line x1="198.5" y1="431" x2="198.5" y2="433" stroke="#aaa" stroke-width="1"/>
<line x1="253.5" y1="431" x2="253.5" y2="433" stroke="#aaa" stroke-width="1"/>
<line x1="308.5" y1="431" x2="308.5" y2="433" stroke="#aaa" stroke-width="1"/>
<line x1="362.5" y1="431" x2="362.5" y2="433" stroke="#aaa" stroke-width="1"/>
<line x1="417.5" y1="431" x2="417.5" y2="433" stroke="#aaa" stroke-width="1"/>
<line x1="471.5" y1="431" x2="471.5" y2="433" stroke="#aaa" stroke-width="1"/>
<line x1="526.5" y1="431" x2="526.5" y2="433" stroke="#aaa" stroke-width="1"/>
<line x1="581.5" y1="431" x2="581.5" y2="433" stroke="#aaa" stroke-width="1"/>
<line x1="635.5" y1="431" x2="635.5" y2="433" stroke="#aaa" stroke-width="1"/>
<line x1="690.5" y1="431" x2="690.5" y2="433" stroke="#aaa" stroke-width="1"/>
<line x1="744.5" y1="431" x2="744.5" y2="433" stroke="#aaa" stroke-width="1"/>
<line x1="799.5" y1="431" x2="799.5" y2="433" stroke="#aaa" stroke-width="1"/>
<text transform="translate(64.9,431.00) scale(1.0620,1)" text-anchor="end" style="font-size:12px" fill="#4a4a4a">0</text>
<text transform="translate(64.9,405.00) scale(1.0620,1)" text-anchor="end" style="font-size:12px" fill="#4a4a4a">100</text>
<text transform="translate(64.9,380.00) scale(1.0620,1)" text-anchor="end" style="font-size:12px" fill="#4a4a4a">200</text>
<text transform="translate(64.9,354.00) scale(1.0620,1)" text-anchor="end" style="font-size:12px" fill="#4a4a4a">300</text>
<text transform="translate(64.9,329.00) scale(1.0620,1)" text-anchor="end" style="font-size:12px" fill="#4a4a4a">400</text>
<text transform="translate(64.9,303.00) scale(1.0620,1)" text-anchor="end" style="font-size:12px" fill="#4a4a4a">500</text>
<text transform="translate(64.9,277.00) scale(1.0620,1)" text-anchor="end" style="font-size:12px" fill="#4a4a4a">600</text>
<text transform="translate(64.9,252.00) scale(1.0620,1)" text-anchor="end" style="font-size:12px" fill="#4a4a4a">700</text>
<text transform="translate(64.9,226.00) scale(1.0620,1)" text-anchor="end" style="font-size:12px" fill="#4a4a4a">800</text>
<text transform="translate(64.9,200.00) scale(1.0620,1)" text-anchor="end" style="font-size:12px" fill="#4a4a4a">900</text>
<text transform="translate(64.9,175.00) scale(1.0620,1)" text-anchor="end" style="font-size:12px" fill="#4a4a4a">1,000</text>
<text transform="translate(64.9,149.00) scale(1.0620,1)" text-anchor="end" style="font-size:12px" fill="#4a4a4a">1,100</text>
<text transform="translate(64.9,123.00) scale(1.0620,1)" text-anchor="end" style="font-size:12px" fill="#4a4a4a">1,200</text>
<text transform="translate(64.9,98.00) scale(1.0620,1)" text-anchor="end" style="font-size:12px" fill="#4a4a4a">1,300</text>
<text transform="translate(64.9,72.00) scale(1.0620,1)" text-anchor="end" style="font-size:12px" fill="#4a4a4a">1,400</text>
<text transform="translate(64.9,46.00) scale(1.0620,1)" text-anchor="end" style="font-size:12px" fill="#4a4a4a">1,500</text>
<text transform="translate(855.2,431.00) scale(1.2,1)" style="font-size:10px" fill="#000">0</text>
<text transform="translate(855.2,400.00) scale(1.2,1)" style="font-size:10px" fill="#000">2</text>
<text transform="translate(855.2,370.00) scale(1.2,1)" style="font-size:10px" fill="#000">4</text>
<text transform="translate(855.2,339.00) scale(1.2,1)" style="font-size:10px" fill="#000">6</text>
<text transform="translate(855.2,308.00) scale(1.2,1)" style="font-size:10px" fill="#000">8</text>
<text transform="translate(855.2,277.00) scale(1.2,1)" style="font-size:10px" fill="#000">10</text>
<text transform="translate(855.2,246.00) scale(1.2,1)" style="font-size:10px" fill="#000">12</text>
<text transform="translate(855.2,216.00) scale(1.2,1)" style="font-size:10px" fill="#000">14</text>
<text transform="translate(855.2,185.00) scale(1.2,1)" style="font-size:10px" fill="#000">16</text>
<text transform="translate(855.2,154.00) scale(1.2,1)" style="font-size:10px" fill="#000">18</text>
<text transform="translate(855.2,123.00) scale(1.2,1)" style="font-size:10px" fill="#000">20</text>
<text transform="translate(855.2,92.00) scale(1.2,1)" style="font-size:10px" fill="#000">22</text>
<text transform="translate(855.2,62.00) scale(1.2,1)" style="font-size:10px" fill="#000">24</text>
<text transform="translate(89.60,446) scale(1.0844,1)" text-anchor="middle" style="font-size:12px" fill="#4a4a4a">07:00</text>
<text transform="translate(143.50,446) scale(1.0844,1)" text-anchor="middle" style="font-size:12px" fill="#4a4a4a">08:00</text>
<text transform="translate(198.35,446) scale(1.0844,1)" text-anchor="middle" style="font-size:12px" fill="#4a4a4a">09:00</text>
<text transform="translate(253.80,446) scale(1.0844,1)" text-anchor="middle" style="font-size:12px" fill="#4a4a4a">10:00</text>
<text transform="translate(307.70,446) scale(1.0844,1)" text-anchor="middle" style="font-size:12px" fill="#4a4a4a">11:00</text>
<text transform="translate(362.60,446) scale(1.0844,1)" text-anchor="middle" style="font-size:12px" fill="#4a4a4a">12:00</text>
<text transform="translate(416.80,446) scale(1.0844,1)" text-anchor="middle" style="font-size:12px" fill="#4a4a4a">13:00</text>
<text transform="translate(471.60,446) scale(1.0844,1)" text-anchor="middle" style="font-size:12px" fill="#4a4a4a">14:00</text>
<text transform="translate(525.80,446) scale(1.0844,1)" text-anchor="middle" style="font-size:12px" fill="#4a4a4a">15:00</text>
<text transform="translate(580.80,446) scale(1.0844,1)" text-anchor="middle" style="font-size:12px" fill="#4a4a4a">16:00</text>
<text transform="translate(635.60,446) scale(1.0844,1)" text-anchor="middle" style="font-size:12px" fill="#4a4a4a">17:00</text>
<text transform="translate(689.60,446) scale(1.0844,1)" text-anchor="middle" style="font-size:12px" fill="#4a4a4a">18:00</text>
<text transform="translate(744.60,446) scale(1.0844,1)" text-anchor="middle" style="font-size:12px" fill="#4a4a4a">19:00</text>
<text transform="translate(798.50,446) scale(1.0844,1)" text-anchor="middle" style="font-size:12px" fill="#4a4a4a">20:00</text>
<text transform="translate(401.84,21.10) scale(1.0730,1)" style="font-size:22.14px;font-weight:bold" fill="#000">7-8-2021</text>
<text transform="translate(446.04,464.90) scale(1.0465,1)" style="font-size:14.86px;font-weight:normal" fill="#333">time</text>
<text transform="translate(25.00,247.96) rotate(-90) scale(1.1086,1)" style="font-size:15.00px;font-weight:normal" fill="#333">Watt</text>
<text transform="translate(875.80,225.29) rotate(90) scale(0.8307,1)" style="font-size:13.58px;font-weight:normal" fill="#000">%</text>
<rect x="128.5" y="477.5" width="643" height="21" fill="#fff" stroke="#000" stroke-width="1"/>
<line x1="131" y1="487.75" x2="147" y2="487.75" stroke="#cc00cc" stroke-width="2"/><circle cx="139" cy="487.75" r="1.5" fill="#cc00cc"/>
<text transform="translate(149.08,493) scale(1.031,1)" style="font-size:12px" fill="#4a4a4a">SB3000TL-20-SN2100578613_21panels( 5.070 kWh )</text>
<line x1="452" y1="487.75" x2="468" y2="487.75" stroke="#0028cc" stroke-width="2"/><circle cx="460" cy="487.75" r="1.5" fill="#0028cc"/>
<text transform="translate(469.88,493) scale(1.031,1)" style="font-size:12px" fill="#4a4a4a">SB3000TL-21-SN2130032031_19panels( 4.765 kWh )</text>
</svg></body></html>
